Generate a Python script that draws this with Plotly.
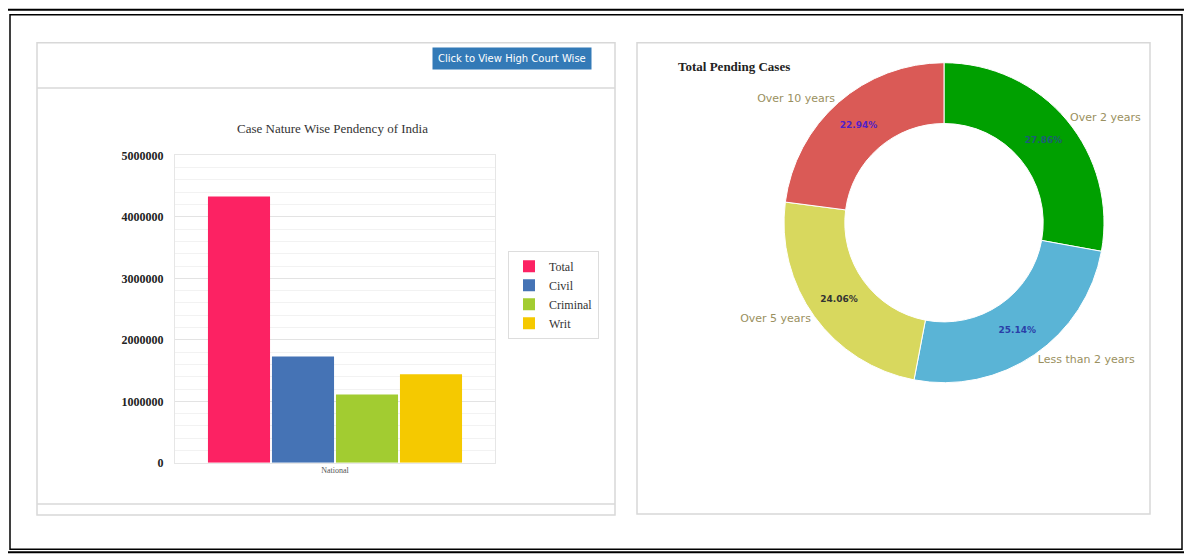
import plotly.graph_objects as go

# bar chart data
categories = ["National"]
bar_series = ["Total", "Civil", "Criminal", "Writ"]
bar_values = [4330000, 1730000, 1110000, 1440000]
bar_colors = ["#fc2263", "#4573b5", "#a2cc31", "#f5c900"]
y_ticks = [0, 1000000, 2000000, 3000000, 4000000, 5000000]

# donut data (clockwise from 12 o'clock)
pie_labels = ["Over 2 years", "Less than 2 years", "Over 5 years", "Over 10 years"]
pie_values = [27.86, 25.14, 24.06, 22.94]
pie_colors = ["#00a000", "#5ab4d6", "#d8d85e", "#da5a56"]
pie_text_colors = ["#1d5b78", "#2a3fa8", "#333333", "#5020c8"]

W, H = 1192, 554
# the page renders the figure offset/compressed a little, so map screen pixels to paper
OX, OY, SY = 8, 15.3, 537.4


def px(x):
    return (x - OX) / W


def py(y):
    return 1 - (y - OY) / SY


fig = go.Figure()

for name, val, col in zip(bar_series, bar_values, bar_colors):
    fig.add_trace(go.Bar(
        x=categories, y=[val], name=name,
        marker=dict(color=col, line=dict(width=0)),
        xaxis="x", yaxis="y"
    ))

pie_dom = dict(x=[px(944 - 160), px(944 + 160)], y=[py(222 + 160), py(222 - 160)])

# donut with inner percent labels
fig.add_trace(go.Pie(
    labels=pie_labels, values=pie_values, sort=False, direction="clockwise",
    rotation=0, hole=0.62,
    marker=dict(colors=pie_colors, line=dict(color="white", width=1)),
    textinfo="percent", texttemplate="<b>%{percent:.2%}</b>", textposition="inside",
    insidetextorientation="horizontal",
    insidetextfont=dict(size=9, color=pie_text_colors, family="DejaVu Sans"),
    domain=pie_dom, showlegend=False
))
# transparent copy to carry the outside category labels
fig.add_trace(go.Pie(
    labels=pie_labels, values=pie_values, sort=False, direction="clockwise",
    rotation=0, hole=0.62,
    marker=dict(colors=["rgba(0,0,0,0)"] * 4, line=dict(width=0)),
    textinfo="label", textposition="outside",
    outsidetextfont=dict(size=11, color="#9a9060", family="DejaVu Sans"),
    domain=pie_dom, showlegend=False, hoverinfo="skip"
))

shapes = [
    # outer double frame
    dict(type="rect", xref="paper", yref="paper", x0=px(5), x1=px(1187), y0=py(550), y1=py(10),
         line=dict(color="black", width=2)),
    dict(type="rect", xref="paper", yref="paper", x0=px(10), x1=px(1182), y0=py(547), y1=py(15),
         line=dict(color="black", width=1.5)),
    # left panel
    dict(type="rect", xref="paper", yref="paper", x0=px(37), x1=px(615), y0=py(513), y1=py(43),
         line=dict(color="#d8d8d8", width=1.5)),
    dict(type="line", xref="paper", yref="paper", x0=px(37), x1=px(615), y0=py(88), y1=py(88),
         line=dict(color="#d8d8d8", width=1.5)),
    dict(type="line", xref="paper", yref="paper", x0=px(37), x1=px(615), y0=py(502), y1=py(502),
         line=dict(color="#d8d8d8", width=1.5)),
    # right panel
    dict(type="rect", xref="paper", yref="paper", x0=px(637), x1=px(1150), y0=py(512), y1=py(43),
         line=dict(color="#d8d8d8", width=1.5)),
]

annotations = [
    dict(text="Click to View High Court Wise", xref="paper", yref="paper",
         x=px(512), y=py(59), xanchor="center", yanchor="middle", showarrow=False,
         bgcolor="#337ab7", borderpad=5,
         font=dict(color="white", size=10, family="DejaVu Sans")),
    dict(text="Case Nature Wise Pendency of India", xref="paper", yref="paper",
         x=px(332), y=py(128), xanchor="center", yanchor="middle", showarrow=False,
         font=dict(color="#333333", size=13, family="Liberation Serif")),
    dict(text="<b>Total Pending Cases</b>", xref="paper", yref="paper",
         x=px(676), y=py(67), xanchor="left", yanchor="middle", showarrow=False,
         font=dict(color="#222222", size=13, family="Liberation Serif")),
]

fig.update_layout(
    width=W, height=H, margin=dict(l=0, r=0, t=0, b=0),
    paper_bgcolor="white", plot_bgcolor="white",
    barmode="group", bargap=0.2, bargroupgap=0.03,
    xaxis=dict(domain=[px(175), px(495)], showgrid=False, showline=True, mirror=True,
               linecolor="#e6e6e6", tickfont=dict(size=8, color="#555", family="Liberation Serif"),
               ticks=""),
    yaxis=dict(domain=[py(461), py(155)], range=[0, 5000000], tickvals=y_ticks,
               ticktext=[f"<b>{v}</b>" for v in y_ticks],
               showgrid=True, gridcolor="#e3e3e3", zeroline=False,
               showline=True, mirror=True, linecolor="#e6e6e6",
               tickfont=dict(size=12, color="#222", family="Liberation Serif"),
               ticks="", ticklabelstandoff=8,
               minor=dict(dtick=200000, showgrid=True, gridcolor="#f2f2f2")),
    legend=dict(x=px(508), y=py(250), xanchor="left", yanchor="top",
                bordercolor="#dddddd", borderwidth=1, bgcolor="white",
                font=dict(size=12, color="#333", family="Liberation Serif")),
    shapes=shapes, annotations=annotations,
    font=dict(family="Liberation Serif"),
)

fig.write_html("out.html")
